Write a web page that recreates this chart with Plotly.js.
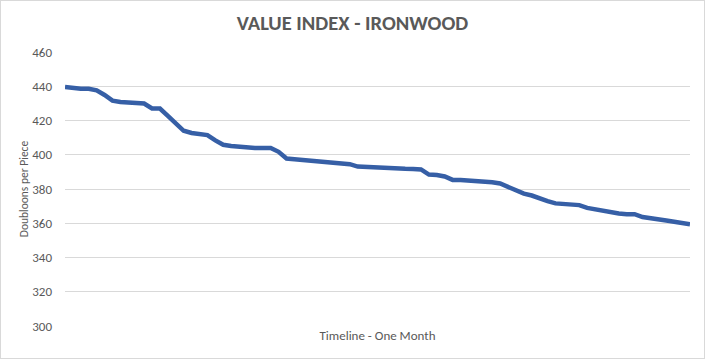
<!DOCTYPE html>
<html>
<head>
<meta charset="utf-8">
<script src="https://cdn.plot.ly/plotly-3.0.1.min.js"></script>
<style>
html,body{margin:0;padding:0;background:#fff;}
#chart{width:705px;height:359px;box-sizing:border-box;border:1px solid #d9d9d9;}
</style>
</head>
<body>
<div id="chart"></div>
<script>
// Timeline steps over one month (index of observation)
const timeline = Array.from({length: 80}, (_, i) => i);
// Doubloons per piece
const values = [
  439.6, 438.9, 438.5, 438.5, 437.6, 434.9, 431.6, 430.8, 430.5, 430.2,
  429.9, 427.0, 427.0, 422.7, 418.0, 414.0, 412.7, 412.0, 411.5, 408.4,
  405.8, 405.1, 404.6, 404.0, 404.0, 404.0, 403.9, 401.7, 397.8, 397.4,
  397.0, 396.8, 396.7, 396.3, 395.6, 395.0, 394.5, 393.1, 392.8, 392.5,
  392.4, 392.3, 392.0, 391.8, 391.7, 391.4, 388.4, 388.2, 387.3, 385.3,
  385.2, 385.0, 384.5, 384.2, 383.9, 383.2, 381.2, 378.9, 377.3, 376.2,
  374.3, 372.9, 371.6, 371.3, 371.1, 370.6, 369.0, 368.1, 367.2, 366.3,
  365.7, 365.3, 365.3, 363.6, 363.1, 362.4, 361.6, 360.9, 360.2, 359.4
];
const yTicks = [300, 320, 340, 360, 380, 400, 420, 440, 460];
const chartTitle = "VALUE INDEX - IRONWOOD";
const xTitle = "Timeline - One Month";
const yTitle = "Doubloons per Piece";

const fontFam = "Carlito, 'Liberation Sans Narrow', 'Open Sans', sans-serif";

Plotly.newPlot('chart', [{
  x: timeline,
  y: values,
  type: 'scatter',
  mode: 'lines',
  line: {color: '#365FA6', width: 4.5},
  hoverinfo: 'skip'
}], {
  width: 703, height: 357,
  margin: {l: 64, r: 14, t: 51, b: 32, pad: 0},
  paper_bgcolor: '#ffffff',
  plot_bgcolor: '#ffffff',
  showlegend: false,
  title: {
    text: '<b>' + chartTitle + '</b>',
    font: {family: fontFam, size: 20.5, color: '#595959'},
    x: 0.5, xanchor: 'center', y: 0.94, yanchor: 'middle'
  },
  xaxis: {
    range: [0, 79],
    showticklabels: false,
    showgrid: false,
    zeroline: false,
    showline: false,
    ticks: '',
    title: {text: xTitle, font: {family: fontFam, size: 13, color: '#595959'}, standoff: 4}
  },
  yaxis: {
    range: [300, 460],
    tickvals: yTicks,
    ticktext: yTicks.map(String),
    showgrid: true,
    gridcolor: '#d9d9d9',
    gridwidth: 1,
    zeroline: false,
    showline: false,
    ticks: '',
    ticklabelstandoff: 12,
    tickfont: {family: fontFam, size: 13, color: '#595959'},
    title: {text: yTitle, font: {family: fontFam, size: 11.5, color: '#595959'}, standoff: 1}
  }
}, {staticPlot: true, displayModeBar: false});
</script>
</body>
</html>
